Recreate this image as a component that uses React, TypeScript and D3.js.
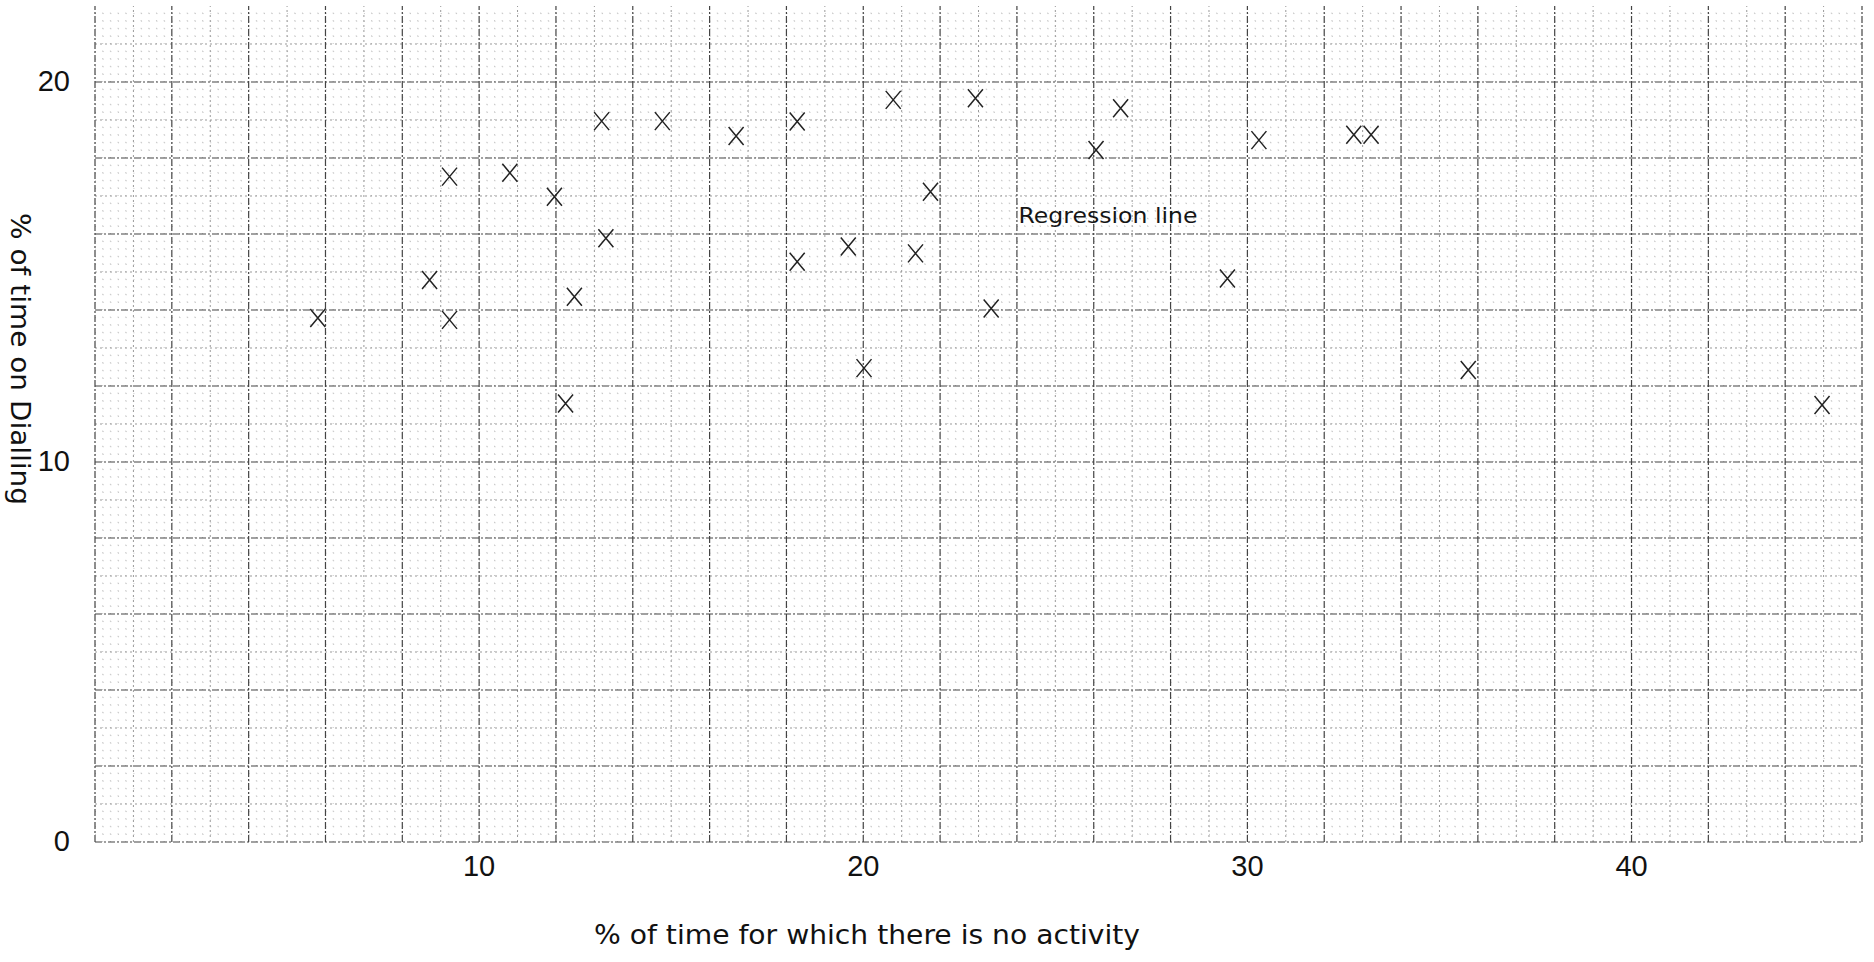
import React from "react";
import * as d3 from "d3";

// ---- data ----
const xTickValues = [10, 20, 30, 40];
const yTickValues = [0, 10, 20];
const noActivityPct = [5.8, 8.71, 9.23, 9.23, 10.8, 11.96, 12.25, 12.48, 13.19, 13.3, 14.77, 16.69, 18.28, 18.28, 19.61, 20.02, 20.78, 21.36, 21.75, 22.92, 23.33, 26.06, 26.7, 29.48, 30.3, 32.77, 33.22, 35.75, 44.96];
const diallingPct = [13.79, 14.79, 17.51, 13.74, 17.61, 16.98, 11.54, 14.35, 18.97, 15.89, 18.97, 18.58, 18.96, 15.27, 15.67, 12.47, 19.53, 15.49, 17.11, 19.57, 14.04, 18.21, 19.31, 14.83, 18.47, 18.61, 18.61, 12.42, 11.5];
const xTitle = "% of time for which there is no activity";
const yTitle = "% of time on Dialling";
const annotationText = "Regression line";
const annotationAt = [24.04, 16.29];
const xDomain = [0, 46];
const yDomain = [0, 22];

const W = 1874;
const H = 962;

export default function App() {
  const x = d3.scaleLinear().domain(xDomain).range([95, 1862]);
  const y = d3.scaleLinear().domain(yDomain).range([842, 6]);

  const stepX = x(0.2) - x(0);
  const stepY = y(0) - y(0.2);

  const vIdx = d3.range(0, Math.round(xDomain[1] * 5) + 1);
  const hIdx = d3.range(0, Math.round(yDomain[1] * 5));

  const kind = (i: number) => (i % 10 === 0 ? "major" : i % 5 === 0 ? "mid" : "fine");

  const styleFor = (k: string, vertical: boolean) => {
    if (k === "major") return { stroke: "#444", strokeWidth: 1.2, strokeDasharray: "7 2 2 2" };
    if (k === "mid") return { stroke: "#999", strokeWidth: 1, strokeDasharray: "2 3" };
    return {
      stroke: "#c4c4c4",
      strokeWidth: 1,
      strokeDasharray: vertical ? `1 ${stepY - 1}` : `1 ${stepX - 1}`,
    };
  };

  const order = ["fine", "mid", "major"];
  const points = noActivityPct.map((v, i) => [v, diallingPct[i]]);
  const fontTick = "'Liberation Sans', Arial, sans-serif";
  const fontTitle = "'DejaVu Sans', 'Noto Sans', sans-serif";

  return (
    <div style={{ position: "absolute", left: 0, top: 0 }}>
      <svg width={W} height={H} style={{ display: "block", background: "#fff" }}>
        <rect x={0} y={0} width={W} height={H} fill="#fff" />
        {order.map((k) => (
          <g key={k}>
            {vIdx
              .filter((i) => kind(i) === k)
              .map((i) => (
                <line
                  key={"v" + i}
                  x1={x(i / 5)}
                  x2={x(i / 5)}
                  y1={y(0)}
                  y2={y(yDomain[1])}
                  {...styleFor(k, true)}
                />
              ))}
            {hIdx
              .filter((j) => kind(j) === k)
              .map((j) => (
                <line
                  key={"h" + j}
                  x1={x(0)}
                  x2={x(xDomain[1])}
                  y1={y(j / 5)}
                  y2={y(j / 5)}
                  {...styleFor(k, false)}
                />
              ))}
          </g>
        ))}

        {points.map(([px, py], i) => (
          <path
            key={i}
            transform={`translate(${x(px)},${y(py)})`}
            d="M-7.5,-9L7.5,9M-7.5,9L7.5,-9"
            stroke="#222"
            strokeWidth={1.5}
            fill="none"
          />
        ))}

        <text
          x={x(annotationAt[0])}
          y={y(annotationAt[1])}
          fontFamily={fontTitle}
          fontSize={22}
          fill="#151515"
          textLength={179}
          lengthAdjust="spacingAndGlyphs"
        >
          {annotationText}
        </text>

        {yTickValues.map((v) => (
          <text
            key={v}
            x={70}
            y={y(v)}
            dy="0.3em"
            textAnchor="end"
            fontFamily={fontTick}
            fontSize={29}
            fill="#111"
          >
            {v}
          </text>
        ))}
        {xTickValues.map((v) => (
          <text
            key={v}
            x={x(v)}
            y={y(0) + 34}
            textAnchor="middle"
            fontFamily={fontTick}
            fontSize={29}
            fill="#111"
          >
            {v}
          </text>
        ))}

        <text
          x={867}
          y={944}
          textAnchor="middle"
          fontFamily={fontTitle}
          fontSize={26}
          fill="#111"
          textLength={546}
          lengthAdjust="spacingAndGlyphs"
        >
          {xTitle}
        </text>
        <text
          transform="translate(11,359) rotate(90)"
          textAnchor="middle"
          fontFamily={fontTitle}
          fontSize={26}
          fill="#111"
          textLength={292}
          lengthAdjust="spacingAndGlyphs"
        >
          {yTitle}
        </text>
      </svg>
    </div>
  );
}
